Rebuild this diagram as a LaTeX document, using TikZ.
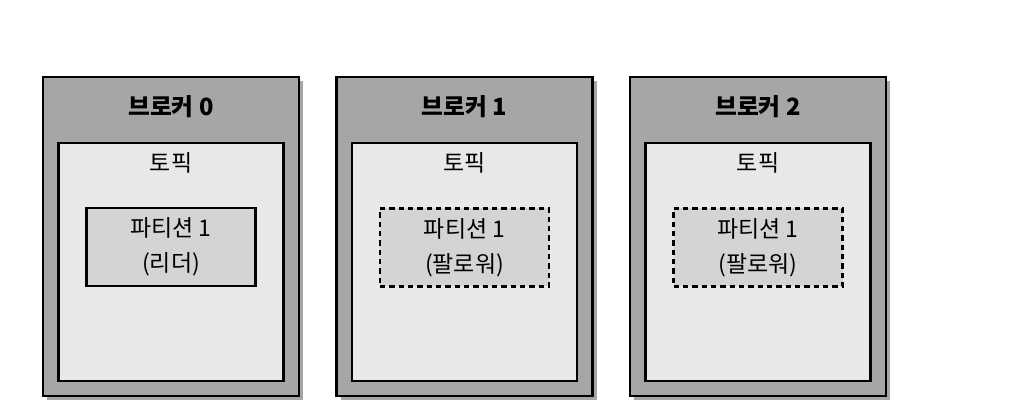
\documentclass[tikz,border=0pt]{standalone}
\usepackage{fontspec}
\setmainfont{Noto Sans CJK KR}
\usetikzlibrary{shadows}
\definecolor{brokerfill}{HTML}{A6A6A6}
\definecolor{topicfill}{HTML}{E8E8E8}
\definecolor{partfill}{HTML}{D4D4D4}
\tikzset{
  brokerbox/.style={draw,line width=1.8pt,fill=brokerfill,inner sep=0pt,
    minimum width=192pt,minimum height=239pt,
    drop shadow={shadow xshift=3pt,shadow yshift=-3pt,fill=black,opacity=0.35}},
  topicbox/.style={draw,line width=1.8pt,fill=topicfill,inner sep=0pt,
    minimum width=168.75pt,minimum height=178.5pt},
  leaderbox/.style={draw,line width=1.8pt,fill=partfill,inner sep=0pt,
    minimum width=126.75pt,minimum height=58.5pt,align=center,
    font=\fontsize{17.2}{26.5}\selectfont},
  followerbox/.style={leaderbox,line width=1.6pt,dash pattern=on 4pt off 3pt},
  brokertext/.style={font=\fontsize{17.8}{20}\selectfont\bfseries},
  topictext/.style={font=\fontsize{17.2}{20}\selectfont}
}
\begin{document}
\begin{tikzpicture}[x=0.75pt,y=-0.75pt]
  \useasboundingbox (0,0) rectangle (1010,416);
  % three brokers, partition 1 led by broker 0
  \foreach \i/\cx/\role in {0/171/리더,1/464.5/팔로워,2/758/팔로워}{
    \node[brokerbox] (broker\i) at (\cx,236.5) {};
    \node[topicbox] (topic\i) at (\cx,262) {};
    \node[brokertext] (brokerlabel\i) at (\cx,107) {브로커 \i};
    \node[topictext] (topiclabel\i) at (\cx,163) {토픽};
    \ifnum\i=0
      \node[leaderbox] (part\i) at (\cx,247) {파티션 1\\(\role)};
    \else
      \node[followerbox] (part\i) at (\cx,247.5) {파티션 1\\(\role)};
    \fi
  }
\end{tikzpicture}
\end{document}
